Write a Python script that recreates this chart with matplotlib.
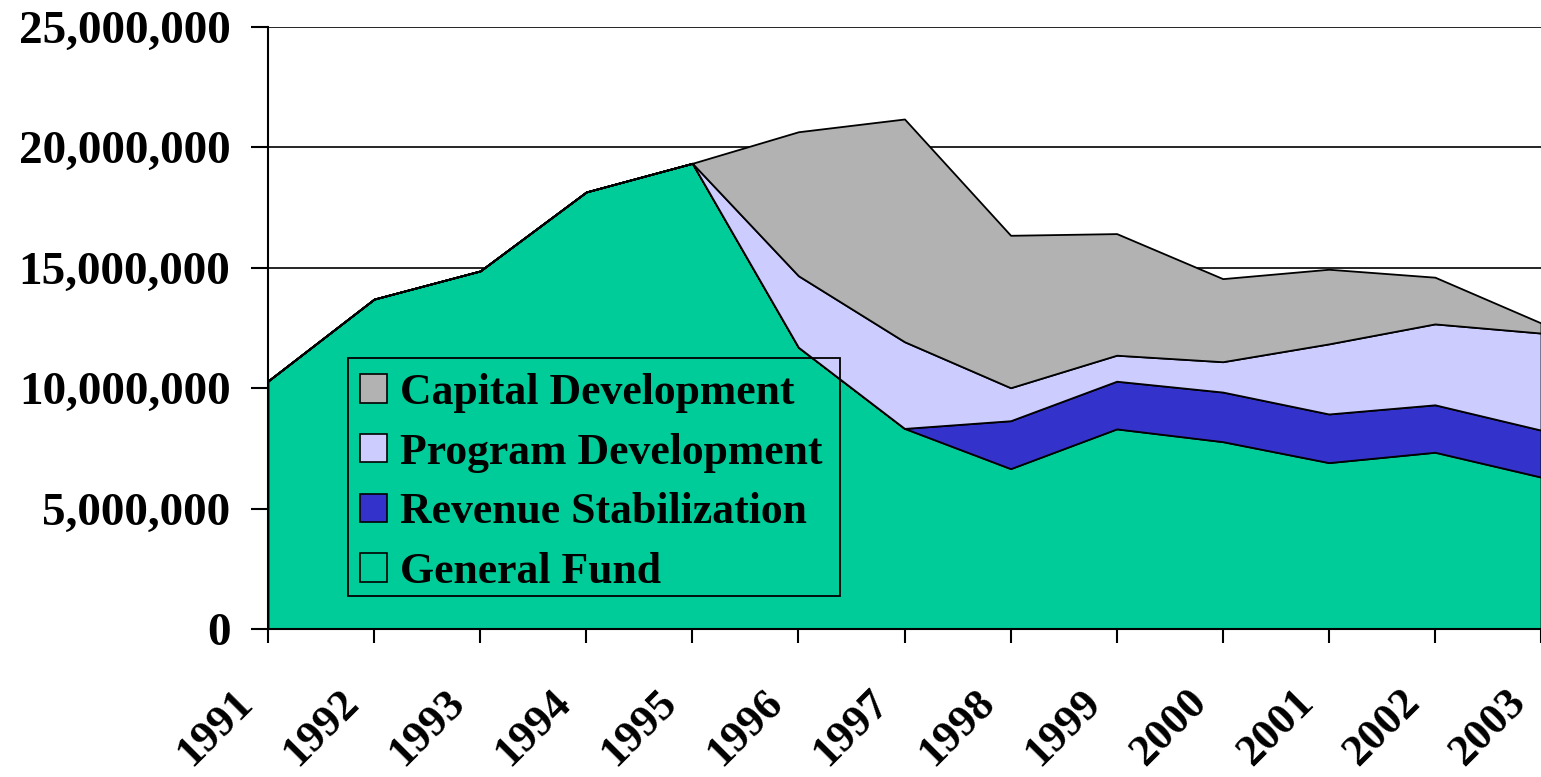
import matplotlib
matplotlib.use("Agg")
import matplotlib.pyplot as plt
from matplotlib.ticker import FuncFormatter
from matplotlib.patches import Patch, Rectangle
from matplotlib.transforms import ScaledTranslation

years = [1991, 1992, 1993, 1994, 1995, 1996, 1997, 1998, 1999, 2000, 2001, 2002, 2003]
general_fund = [10.30, 13.70, 14.87, 18.15, 19.34, 11.70, 8.33, 6.66, 8.31, 7.78, 6.91, 7.34, 6.31]
revenue_stab = [0, 0, 0, 0, 0, 0, 0, 1.99, 1.98, 2.06, 2.02, 1.97, 1.95]
program_dev = [0, 0, 0, 0, 0, 2.97, 3.60, 1.37, 1.08, 1.26, 2.91, 3.36, 4.03]
capital_dev = [0, 0, 0, 0, 0, 5.98, 9.25, 6.33, 5.05, 3.45, 3.10, 1.94, 0.42]
series_names = ["General Fund", "Revenue Stabilization", "Program Development", "Capital Development"]
colors = ["#00CC99", "#3333CC", "#CCCCFF", "#B2B2B2"]
yticks = [0, 5e6, 10e6, 15e6, 20e6, 25e6]

scale = 1e6
data = [[v * scale for v in s] for s in (general_fund, revenue_stab, program_dev, capital_dev)]

plt.rcParams['font.family'] = ['Liberation Serif', 'DejaVu Serif']
plt.rcParams['font.weight'] = 'bold'

W, H = 1541, 777
fig = plt.figure(figsize=(W/100, H/100), dpi=100)
ax = fig.add_axes([268/W, 1 - 629/H, 1 - 268/W, (629 - 27)/H])

x = list(range(len(years)))
ax.stackplot(x, *data, colors=colors, edgecolor="black", linewidth=1.3, zorder=3)

ax.set_xlim(0, len(years) - 1)
ax.set_ylim(0, 25e6)
ax.set_yticks(yticks)
ax.yaxis.set_major_formatter(FuncFormatter(lambda v, p: f"{int(v):,}"))
ax.set_xticks(x)
ax.set_xticklabels([str(y) for y in years], rotation=45, ha='right', rotation_mode='anchor')

ax.grid(axis='y', color='black', linewidth=1.2, zorder=0)
ax.set_axisbelow(True)
for s in ['top', 'right']:
    ax.spines[s].set_visible(False)
for s in ['left', 'bottom']:
    ax.spines[s].set_linewidth(1.5)
    ax.spines[s].set_zorder(5)

ax.tick_params(axis='y', direction='out', length=12, width=1.5, pad=15, labelsize=34)
ax.tick_params(axis='x', direction='out', length=10, width=1.5, pad=28, labelsize=32)
shift = ScaledTranslation(-36/100, 0, fig.dpi_scale_trans)
for lab in ax.get_xticklabels():
    lab.set_fontweight('bold')
    lab.set_transform(lab.get_transform() + shift)
for lab in ax.get_yticklabels():
    lab.set_fontweight('bold')

handles = [Patch(facecolor=c, edgecolor='black', linewidth=1.2) for c in colors]
leg = fig.legend(handles[::-1], series_names[::-1], loc='upper left',
                 bbox_to_anchor=(360/W, 1 - 373/H), borderaxespad=0,
                 prop={'size': 31.5, 'weight': 'bold'}, frameon=False,
                 handlelength=0.62, handleheight=0.62, handletextpad=0.3,
                 labelspacing=0.45, borderpad=0)
leg.set_zorder(6)
fig.add_artist(Rectangle((348/W, 1 - 596/H), 492/W, 238/H, transform=fig.transFigure,
                         fill=False, edgecolor='black', linewidth=1.3, zorder=6))

fig.savefig("out.png", dpi=100)
